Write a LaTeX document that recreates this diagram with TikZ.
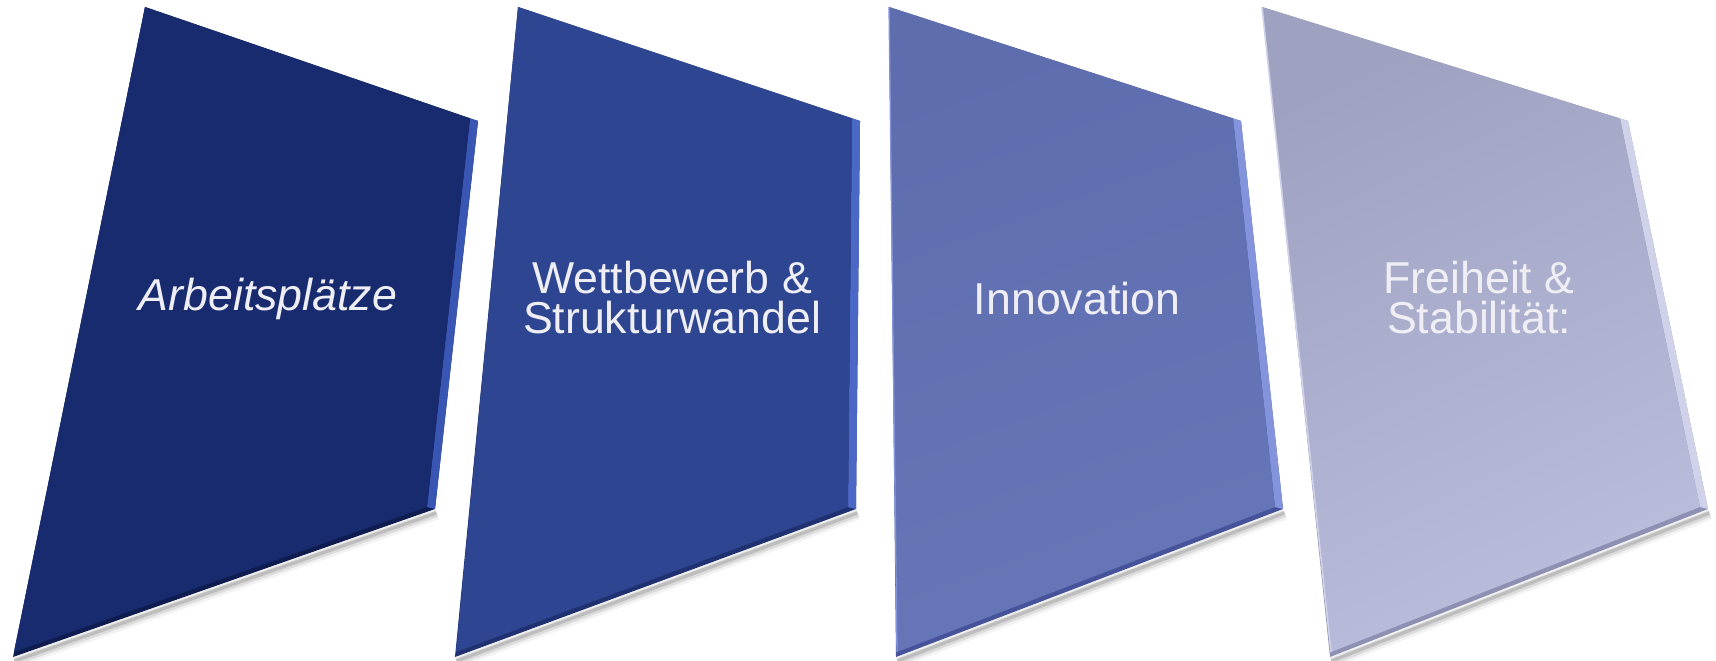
\documentclass[tikz,border=0pt]{standalone}
\usepackage{fontspec}
\setmainfont{Liberation Sans}
\usepackage{xcolor}

\definecolor{faceA}{HTML}{172B6E}
\definecolor{rimA}{HTML}{3A56B4}
\definecolor{edgeA}{HTML}{0E1C50}
\definecolor{faceB}{HTML}{2E4591}
\definecolor{rimB}{HTML}{4C68C6}
\definecolor{edgeB}{HTML}{1F3170}
\definecolor{faceC}{HTML}{5E6DAE}
\definecolor{faceCb}{HTML}{6776B8}
\definecolor{rimC}{HTML}{8394DC}
\definecolor{edgeC}{HTML}{46539A}
\definecolor{faceD}{HTML}{9EA1C0}
\definecolor{faceDb}{HTML}{BABDDC}
\definecolor{rimD}{HTML}{D0D2EA}
\definecolor{edgeD}{HTML}{8D90B2}
\definecolor{captiontext}{HTML}{EEEEF4}

\tikzset{
  softshadow/.style={line cap=round,
    preaction={draw=black, draw opacity=0.05, line width=8pt, transform canvas={shift={(1.5pt,-4pt)}}},
    preaction={draw=black, draw opacity=0.09, line width=5pt, transform canvas={shift={(1.5pt,-3.5pt)}}},
    preaction={draw=black, draw opacity=0.14, line width=2.5pt, transform canvas={shift={(1pt,-3pt)}}}},
  caption/.style={text=captiontext, font=\fontsize{33.5}{30}\selectfont, align=center},
}

\begin{document}
\begin{tikzpicture}[x=0.75pt,y=-0.75pt]
	\useasboundingbox (0,0) rectangle (1716,660);
	
	% shadows under the panels
	\path[softshadow] (13,657) -- (435,509);
	\path[softshadow] (455,657) -- (856,509);
	\path[softshadow] (896,657) -- (1283,509);
	\path[softshadow] (1330,657) -- (1708,509);
	
	% Arbeitsplaetze
	\fill[edgeA] (145,7) -- (478,121) -- (435,509) -- (13,657) -- cycle;
	\fill[rimA] (470,118.4) -- (478,121) -- (435,509) -- (427,507) -- cycle;
	\fill[faceA] (145,7) -- (470,118.4) -- (427,507) -- (14,652) -- cycle;
	\node[caption, font=\fontsize{33.5}{30}\selectfont\itshape] (arbeit) at (268,299) {Arbeitsplätze};
	
	% Wettbewerb
	\fill[edgeB] (518,7) -- (860,121) -- (856,509) -- (455,657) -- cycle;
	\fill[rimB] (852,118.4) -- (860,121) -- (856,509) -- (848,507) -- cycle;
	\fill[faceB] (518,7) -- (852,118.4) -- (848,507) -- (456,652) -- cycle;
	\node[caption] (wettbewerb) at (672,298) {Wettbewerb \&\\Strukturwandel};
	
	% Innovation
	\fill[edgeC] (889,7) -- (1241,121) -- (1283,509) -- (896,657) -- cycle;
	\fill[rimC] (1233,118.4) -- (1241,121) -- (1283,509) -- (1275,507) -- cycle;
	\shade[top color=faceC, bottom color=faceCb, shading angle=20] (889,7) -- (1233,118.4) -- (1275,507) -- (897,652) -- cycle;
	\draw[rimC, line width=1pt] (889,7) -- (897,652);
	\node[caption] (innovation) at (1077,299) {Innovation};
	
	% Freiheit
	\fill[edgeD] (1262,7) -- (1628,121) -- (1708,509) -- (1330,657) -- cycle;
	\fill[rimD] (1620,118.5) -- (1628,121) -- (1708,509) -- (1700,507) -- cycle;
	\shade[top color=faceD, bottom color=faceDb, shading angle=25] (1262,7) -- (1620,118.5) -- (1700,507) -- (1331,652) -- cycle;
	\draw[rimD, line width=1.2pt] (1262,7) -- (1331,652);
	\node[caption] (freiheit) at (1479,298) {Freiheit \&\\Stabilität:};
\end{tikzpicture}
\end{document}
